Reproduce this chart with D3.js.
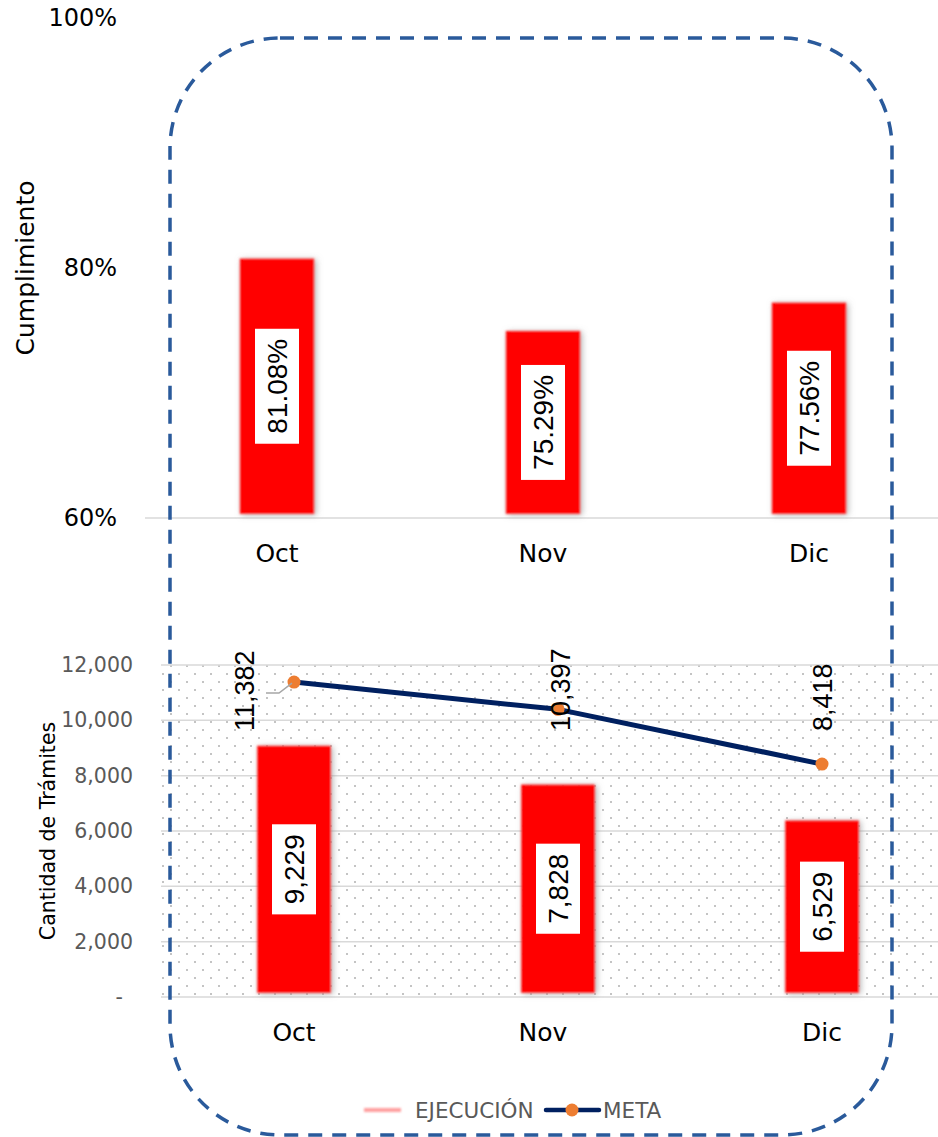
<!DOCTYPE html>
<html>
<head>
<meta charset="utf-8">
<script src="https://cdn.jsdelivr.net/npm/d3@7"></script>
<style>
  html, body { margin: 0; padding: 0; background: #fff; }
  svg { display: block; }
</style>
</head>
<body>
<div id="chart"></div>
<script>
// ---- data ----
const categories = ["Oct", "Nov", "Dic"];
const cumplimiento = [0.8108, 0.7529, 0.7756];
const ejecucion = [9229, 7828, 6529];
const meta = [11382, 10397, 8418];
const topTicks = [0.6, 0.8, 1.0];
const bottomTicks = [0, 2000, 4000, 6000, 8000, 10000, 12000];
const legendLabels = ["EJECUCIÓN", "META"];

const W = 938, H = 1137;
const svg = d3.select("#chart").append("svg").attr("width", W).attr("height", H);
const defs = svg.append("defs");

// dotted pattern
const pat = defs.append("pattern").attr("id", "dots").attr("patternUnits", "userSpaceOnUse")
  .attr("width", 16).attr("height", 16).attr("x", 2).attr("y", 1);
pat.append("rect").attr("x", 0).attr("y", 0).attr("width", 2).attr("height", 2).attr("fill", "#c4c4c4");
pat.append("rect").attr("x", 8).attr("y", 8).attr("width", 2).attr("height", 2).attr("fill", "#c4c4c4");

// soft-edge bar filter with shadow
const f = defs.append("filter").attr("id", "soft").attr("x", "-30%").attr("y", "-30%").attr("width", "160%").attr("height", "160%");
f.append("feMorphology").attr("in", "SourceGraphic").attr("operator", "erode").attr("radius", 4).attr("result", "er");
f.append("feGaussianBlur").attr("in", "er").attr("stdDeviation", 1.2).attr("result", "bl");
f.append("feGaussianBlur").attr("in", "er").attr("stdDeviation", 3).attr("result", "sh0");
f.append("feOffset").attr("in", "sh0").attr("dx", 2).attr("dy", 1).attr("result", "sh1");
f.append("feColorMatrix").attr("in", "sh1").attr("type", "matrix")
  .attr("values", "0 0 0 0 0.3  0 0 0 0 0.3  0 0 0 0 0.3  0 0 0 0.7 0").attr("result", "sh");
const fm = f.append("feMerge");
fm.append("feMergeNode").attr("in", "sh");
fm.append("feMergeNode").attr("in", "bl");

const legBlur = defs.append("filter").attr("id", "legblur").attr("filterUnits", "userSpaceOnUse")
  .attr("x", 340).attr("y", 1090).attr("width", 90).attr("height", 40);
legBlur.append("feGaussianBlur").attr("stdDeviation", 1.2);

const labelFont = "'Liberation Sans', Arial, sans-serif";
const axisFont = "'DejaVu Sans', sans-serif";

// ---------- TOP CHART ----------
const xTop = d3.scaleBand().domain(categories).range([144, 942]);
const yTop = d3.scaleLinear().domain([0.6, 1.0]).range([518, 18]);
const barWTop = xTop.bandwidth() * 0.31;

svg.append("g").selectAll("text").data(topTicks).join("text")
  .attr("x", 117).attr("y", d => yTop(d)).attr("text-anchor", "end").attr("dominant-baseline", "central")
  .attr("font-family", axisFont).attr("font-size", 24).attr("fill", "#000")
  .text(d => d3.format(".0%")(d));

svg.append("line").attr("x1", 145).attr("x2", W).attr("y1", yTop(0.6)).attr("y2", yTop(0.6))
  .attr("stroke", "#d9d9d9").attr("stroke-width", 1.5);

svg.append("g").selectAll("rect").data(categories).join("rect")
  .attr("x", d => xTop(d) + xTop.bandwidth() / 2 - barWTop / 2)
  .attr("width", barWTop)
  .attr("y", (d, i) => yTop(cumplimiento[i]))
  .attr("height", (d, i) => yTop(0.6) - yTop(cumplimiento[i]))
  .attr("fill", "#ff0000").attr("filter", "url(#soft)");

function boxLabel(g, cx, cy, txt) {
  const grp = g.append("g").attr("transform", `translate(${cx},${cy}) rotate(-90)`);
  const r = grp.append("rect").attr("fill", "#fff");
  const t = grp.append("text").attr("text-anchor", "middle").attr("dominant-baseline", "central")
    .attr("font-family", labelFont).attr("font-size", 28).attr("fill", "#000").text(txt);
  const bw = t.node().getComputedTextLength();
  r.attr("x", -bw / 2 - 10).attr("y", -22).attr("width", bw + 20).attr("height", 44);
}
const topLbl = svg.append("g");
categories.forEach((c, i) => {
  const cx = xTop(c) + xTop.bandwidth() / 2;
  const cy = (yTop(cumplimiento[i]) + yTop(0.6)) / 2;
  boxLabel(topLbl, cx, cy, d3.format(".2%")(cumplimiento[i]));
});

svg.append("g").selectAll("text").data(categories).join("text")
  .attr("x", d => xTop(d) + xTop.bandwidth() / 2).attr("y", 553)
  .attr("text-anchor", "middle").attr("dominant-baseline", "central")
  .attr("font-family", axisFont).attr("font-size", 25).attr("fill", "#000").text(d => d);

svg.append("text").attr("transform", "translate(25,268) rotate(-90)")
  .attr("text-anchor", "middle").attr("dominant-baseline", "central")
  .attr("font-family", axisFont).attr("font-size", 25).attr("fill", "#000").text("Cumplimiento");

// ---------- BOTTOM CHART ----------
const xBot = d3.scaleBand().domain(categories).range([162, 954]);
const yBot = d3.scaleLinear().domain([0, 12000]).range([997, 665]);
const barWBot = xBot.bandwidth() * 0.31;
const cxB = d => xBot(d) + xBot.bandwidth() / 2;

svg.append("rect").attr("x", 161).attr("y", yBot(12000)).attr("width", W - 161)
  .attr("height", yBot(0) - yBot(12000)).attr("fill", "url(#dots)");

svg.append("g").selectAll("line").data(bottomTicks).join("line")
  .attr("x1", 161).attr("x2", W).attr("y1", d => yBot(d)).attr("y2", d => yBot(d))
  .attr("stroke", "#d9d9d9").attr("stroke-width", 1.5);

svg.append("g").selectAll("text").data(bottomTicks).join("text")
  .attr("x", d => d === 0 ? 123 : 133).attr("y", d => yBot(d))
  .attr("text-anchor", "end").attr("dominant-baseline", "central")
  .attr("font-family", axisFont).attr("font-size", 20.5).attr("fill", "#595959")
  .text(d => d === 0 ? "-" : d3.format(",")(d));

svg.append("g").selectAll("rect").data(categories).join("rect")
  .attr("x", d => cxB(d) - barWBot / 2).attr("width", barWBot)
  .attr("y", (d, i) => yBot(ejecucion[i]))
  .attr("height", (d, i) => yBot(0) - yBot(ejecucion[i]))
  .attr("fill", "#ff0000").attr("filter", "url(#soft)");

const botLbl = svg.append("g");
categories.forEach((c, i) => {
  boxLabel(botLbl, cxB(c), (yBot(ejecucion[i]) + yBot(0)) / 2, d3.format(",")(ejecucion[i]));
});

const lineGen = d3.line().x((d, i) => cxB(categories[i])).y(d => yBot(d));
svg.append("path").datum(meta).attr("d", lineGen).attr("fill", "none")
  .attr("stroke", "#002060").attr("stroke-width", 5).attr("stroke-linejoin", "round");
svg.append("g").selectAll("circle").data(meta).join("circle")
  .attr("cx", (d, i) => cxB(categories[i])).attr("cy", d => yBot(d)).attr("r", 6.5)
  .attr("fill", "#ed7d31");

const p0x = cxB("Oct"), p0y = yBot(meta[0]);
svg.append("polyline").attr("points", `${p0x - 28},${p0y + 11} ${p0x - 15},${p0y + 11} ${p0x - 2},${p0y + 1}`)
  .attr("fill", "none").attr("stroke", "#a6a6a6").attr("stroke-width", 1.5);

const metaDx = [-49, 3, 1];
svg.append("g").selectAll("text").data(meta).join("text")
  .attr("transform", (d, i) => `translate(${cxB(categories[i]) + metaDx[i]},731) rotate(-90)`)
  .attr("text-anchor", "start").attr("dominant-baseline", "central")
  .attr("font-family", labelFont).attr("font-size", 27).attr("fill", "#000")
  .text(d => d3.format(",")(d));

svg.append("g").selectAll("text").data(categories).join("text")
  .attr("x", d => cxB(d) - (d === "Nov" ? 15 : 0)).attr("y", 1032)
  .attr("text-anchor", "middle").attr("dominant-baseline", "central")
  .attr("font-family", axisFont).attr("font-size", 25).attr("fill", "#000").text(d => d);

svg.append("text").attr("transform", "translate(48,831) rotate(-90)")
  .attr("text-anchor", "middle").attr("dominant-baseline", "central")
  .attr("font-family", axisFont).attr("font-size", 20.5).attr("fill", "#000").text("Cantidad de Trámites");

// legend
const ly = 1110;
svg.append("line").attr("x1", 364).attr("x2", 401).attr("y1", ly).attr("y2", ly)
  .attr("stroke", "#ff8080").attr("stroke-width", 4).attr("opacity", 0.75).attr("filter", "url(#legblur)");
svg.append("text").attr("x", 415).attr("y", ly).attr("dominant-baseline", "central")
  .attr("font-family", axisFont).attr("font-size", 21.5).attr("fill", "#595959").text(legendLabels[0]);
svg.append("line").attr("x1", 546).attr("x2", 599).attr("y1", ly).attr("y2", ly)
  .attr("stroke", "#002060").attr("stroke-width", 4.5).attr("stroke-linecap", "round");
svg.append("circle").attr("cx", 572).attr("cy", ly).attr("r", 6.5).attr("fill", "#ed7d31");
svg.append("text").attr("x", 603).attr("y", ly).attr("dominant-baseline", "central")
  .attr("font-family", axisFont).attr("font-size", 21.5).attr("fill", "#595959").text(legendLabels[1]);

// dashed rounded frame
svg.append("rect").attr("x", 170).attr("y", 38).attr("width", 722).attr("height", 1097)
  .attr("rx", 110).attr("ry", 110).attr("fill", "none")
  .attr("stroke", "#2a5a9b").attr("stroke-width", 3.5).attr("stroke-dasharray", "14 10");
</script>
</body>
</html>
